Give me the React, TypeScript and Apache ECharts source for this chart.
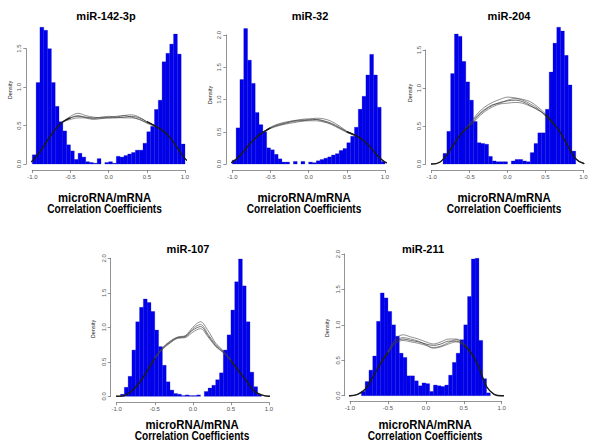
import React, { useEffect, useRef } from "react";
import * as echarts from "echarts";

// ---------- data ----------
const TITLES = ["miR-142-3p", "miR-32", "miR-204", "miR-107", "miR-211"];
const X_TICKS = [-1.0, -0.5, 0.0, 0.5, 1.0];
const Y_MAX = [1.5, 2.0, 1.5, 2.0, 2.0];

// histogram densities, bins of width 0.05 starting at -1.0
const BINS_142 = [0.12, 1.06, 1.78, 1.74, 1.5, 1.06, 0.75, 0.55, 0.43, 0.25,
  0.17, 0.06, 0.14, 0.09, 0.03, 0.02, 0.01, 0.07, 0.0, 0.02,
  0.03, 0.01, 0.1, 0.09, 0.11, 0.13, 0.15, 0.18, 0.18, 0.27,
  0.42, 0.49, 0.71, 0.83, 1.33, 1.44, 1.56, 1.69, 1.43, 0.26];
const BINS_32 = [0.06, 0.56, 1.31, 2.1, 1.61, 1.25, 0.8, 0.61, 0.5, 0.25,
  0.22, 0.15, 0.08, 0.03, 0.03, 0.0, 0.04, 0.0, 0.04, 0.0,
  0.03, 0.02, 0.05, 0.07, 0.09, 0.11, 0.14, 0.16, 0.21, 0.24,
  0.33, 0.43, 0.57, 0.85, 1.05, 1.38, 1.7, 1.38, 0.88, 0.04];
const BINS_204 = [0, 0, 0, 0.14, 0.43, 1.19, 1.71, 1.68, 1.35, 1.08,
  0.84, 0.56, 0.28, 0.27, 0.26, 0.1, 0.04, 0.03, 0.03, 0.03,
  0, 0.04, 0.06, 0.06, 0.04, 0.03, 0.15, 0.27, 0.41, 0.41,
  0.72, 1.21, 1.59, 1.8, 1.75, 1.43, 1.04, 0.17, 0, 0];
const BINS_107 = [0, 0.03, 0.13, 0.29, 0.67, 1.08, 1.29, 1.41, 1.36, 1.23,
  0.96, 0.72, 0.45, 0.21, 0.09, 0.04, 0.03, 0.01, 0.02, 0.01,
  0.01, 0.02, 0.0, 0.07, 0.12, 0.16, 0.24, 0.34, 0.67, 0.89,
  1.25, 1.66, 1.99, 1.6, 1.08, 0.35, 0.14, 0.03, 0, 0];
const BINS_211 = [0, 0, 0, 0.06, 0.2, 0.36, 0.56, 1.05, 1.45, 1.38,
  1.19, 1.0, 0.84, 0.6, 0.54, 0.28, 0.28, 0.21, 0.14, 0.18,
  0.17, 0.06, 0.15, 0.14, 0.13, 0.15, 0.29, 0.47, 0.6, 0.79,
  1.0, 1.4, 1.93, 1.94, 0.78, 0.24, 0.04, 0, 0, 0];

// density curves
const CURVE_X = [-1.1, -1.0, -0.9, -0.8, -0.7, -0.6, -0.5, -0.4, -0.3, -0.2, -0.1, 0, 0.1, 0.2, 0.3, 0.4, 0.5, 0.6, 0.7, 0.8, 0.9, 1.0, 1.1];
const MID_X = [-0.6, -0.5, -0.4, -0.3, -0.2, -0.1, 0, 0.1, 0.2, 0.3, 0.4, 0.5, 0.6];

const CURVE_142 = [0, 0.04, 0.16, 0.31, 0.45, 0.55, 0.6, 0.62, 0.61, 0.6, 0.6, 0.6, 0.6, 0.61, 0.62, 0.6, 0.55, 0.5, 0.44, 0.35, 0.21, 0.07, 0];
const MID_142_A = [0.55, 0.62, 0.66, 0.63, 0.61, 0.6, 0.6, 0.61, 0.63, 0.64, 0.61, 0.55, 0.5];
const MID_142_B = [0.55, 0.58, 0.6, 0.6, 0.59, 0.61, 0.62, 0.61, 0.6, 0.6, 0.58, 0.54, 0.5];
const MID_142_C = [0.54, 0.6, 0.63, 0.6, 0.58, 0.59, 0.61, 0.62, 0.63, 0.61, 0.58, 0.53, 0.49];

const CURVE_32 = [0, 0.03, 0.13, 0.27, 0.4, 0.49, 0.56, 0.6, 0.63, 0.66, 0.67, 0.68, 0.69, 0.67, 0.63, 0.57, 0.5, 0.45, 0.38, 0.27, 0.13, 0.03, 0];
const MID_32_A = [0.49, 0.57, 0.62, 0.65, 0.67, 0.68, 0.69, 0.71, 0.7, 0.66, 0.59, 0.51, 0.45];
const MID_32_B = [0.49, 0.55, 0.59, 0.62, 0.64, 0.66, 0.67, 0.67, 0.65, 0.62, 0.56, 0.5, 0.45];
const MID_32_C = [0.48, 0.56, 0.61, 0.64, 0.67, 0.69, 0.7, 0.69, 0.66, 0.61, 0.55, 0.49, 0.44];

const CURVE_204 = [0, 0, 0.02, 0.12, 0.27, 0.41, 0.5, 0.62, 0.71, 0.77, 0.81, 0.83, 0.84, 0.82, 0.77, 0.71, 0.65, 0.54, 0.41, 0.23, 0.07, 0.01, 0];
const MID_204_A = [0.42, 0.53, 0.66, 0.75, 0.81, 0.85, 0.88, 0.87, 0.85, 0.82, 0.75, 0.66, 0.54];
const MID_204_B = [0.41, 0.5, 0.6, 0.69, 0.75, 0.79, 0.8, 0.81, 0.8, 0.76, 0.72, 0.64, 0.54];
const MID_204_C = [0.41, 0.52, 0.64, 0.72, 0.78, 0.8, 0.84, 0.86, 0.84, 0.79, 0.73, 0.63, 0.53];

const CURVE_107 = [0, 0, 0.01, 0.08, 0.2, 0.37, 0.55, 0.69, 0.78, 0.85, 0.87, 0.96, 1.01, 0.88, 0.73, 0.64, 0.52, 0.37, 0.23, 0.08, 0.02, 0, 0];
const MID_107_A = [0.37, 0.55, 0.7, 0.8, 0.86, 0.88, 1.0, 1.08, 0.95, 0.77, 0.66, 0.53, 0.37];
const MID_107_B = [0.37, 0.54, 0.68, 0.77, 0.84, 0.85, 0.93, 0.98, 0.86, 0.72, 0.63, 0.51, 0.36];
const MID_107_C = [0.38, 0.56, 0.7, 0.79, 0.85, 0.86, 0.98, 1.04, 0.9, 0.75, 0.65, 0.52, 0.37];

const CURVE_211 = [0, 0, 0.02, 0.09, 0.26, 0.45, 0.61, 0.76, 0.8, 0.78, 0.76, 0.73, 0.71, 0.73, 0.77, 0.77, 0.72, 0.6, 0.4, 0.13, 0.02, 0, 0];
const MID_211_A = [0.45, 0.63, 0.8, 0.86, 0.83, 0.8, 0.76, 0.73, 0.76, 0.8, 0.8, 0.74, 0.6];
const MID_211_B = [0.45, 0.6, 0.74, 0.78, 0.76, 0.74, 0.71, 0.68, 0.7, 0.75, 0.79, 0.73, 0.6];
const MID_211_C = [0.44, 0.61, 0.77, 0.82, 0.8, 0.77, 0.72, 0.67, 0.69, 0.73, 0.76, 0.71, 0.59];

const X_LABEL_1 = "microRNA/mRNA";
const X_LABEL_2 = "Correlation Coefficients";
const Y_LABEL = "Density";

// ---------- layout ----------
const LAYOUT = [
  { grid: { left: 32.3, top: 48.7, width: 152.7, height: 115.3 }, off: 6, title: [106, 16], dens: [10, 90], lab: [104.5, 197, 209] },
  { grid: { left: 232.3, top: 35, width: 152.7, height: 129 }, off: 6, title: [310, 16], dens: [210, 95], lab: [304, 197, 209] },
  { grid: { left: 431.7, top: 50, width: 151.6, height: 114 }, off: 6, title: [509, 16], dens: [410, 93], lab: [504, 197, 209] },
  { grid: { left: 116.7, top: 258.3, width: 152.3, height: 138 }, off: 6, title: [188, 249], dens: [93, 329], lab: [192, 424, 436] },
  { grid: { left: 350, top: 254, width: 151.7, height: 141.7 }, off: 5.5, title: [423, 249], dens: [327, 328], lab: [425, 424, 436] },
];

const PANELS = [
  { bins: BINS_142, curve: CURVE_142, mids: [MID_142_A, MID_142_B, MID_142_C] },
  { bins: BINS_32, curve: CURVE_32, mids: [MID_32_A, MID_32_B, MID_32_C] },
  { bins: BINS_204, curve: CURVE_204, mids: [MID_204_A, MID_204_B, MID_204_C] },
  { bins: BINS_107, curve: CURVE_107, mids: [MID_107_A, MID_107_B, MID_107_C] },
  { bins: BINS_211, curve: CURVE_211, mids: [MID_211_A, MID_211_B, MID_211_C] },
];

const FONT = "'Liberation Sans', Arial, Helvetica, sans-serif";
const AXIS_COLOR = "#666";

function buildOption() {
  const grids: any[] = [];
  const xAxes: any[] = [];
  const yAxes: any[] = [];
  const series: any[] = [];
  const graphics: any[] = [];
  const binW = 0.05;

  PANELS.forEach((p, i) => {
    const L = LAYOUT[i];
    grids.push({ ...L.grid, containLabel: false });
    xAxes.push({
      gridIndex: i, type: "value", min: X_TICKS[0], max: X_TICKS[X_TICKS.length - 1], interval: 0.5,
      offset: L.off,
      axisLine: { show: true, onZero: false, lineStyle: { color: AXIS_COLOR, width: 0.7 } },
      axisTick: { show: true, length: 3, lineStyle: { color: AXIS_COLOR, width: 0.7 } },
      axisLabel: { fontSize: 6, color: "#555", margin: 4, fontFamily: FONT, showMinLabel: true, showMaxLabel: true,
        formatter: (v: number) => v.toFixed(1) },
      splitLine: { show: false },
    });
    yAxes.push({
      gridIndex: i, type: "value", min: 0, max: Y_MAX[i], interval: 0.5,
      offset: L.off,
      axisLine: { show: true, onZero: false, lineStyle: { color: AXIS_COLOR, width: 0.7 } },
      axisTick: { show: true, length: 3, lineStyle: { color: AXIS_COLOR, width: 0.7 } },
      axisLabel: { fontSize: 6, color: "#555", margin: 4, rotate: 90, fontFamily: FONT, showMinLabel: true, showMaxLabel: true,
        formatter: (v: number) => v.toFixed(1) },
      splitLine: { show: false },
    });

    // histogram bars
    const barData = p.bins.map((d, k) => {
      const x0 = -1 + k * binW;
      return [x0, x0 + binW, d];
    });
    series.push({
      type: "custom", xAxisIndex: i, yAxisIndex: i, clip: false, silent: true, z: 1,
      encode: { x: [0, 1], y: 2 },
      data: barData,
      renderItem: (params: any, api: any) => {
        const x0 = api.value(0), x1 = api.value(1), y = api.value(2);
        if (!y) return { type: "group", children: [] };
        const a = api.coord([x0, y]);
        const b = api.coord([x1, 0]);
        return {
          type: "rect",
          shape: { x: a[0], y: a[1], width: b[0] - a[0], height: b[1] - a[1] },
          style: { fill: "#0000ee", stroke: "#0000a8", lineWidth: 0.25 },
        };
      },
    });

    const curvePairs = CURVE_X.map((x, k) => [x, p.curve[k]]);
    const leftFlank = curvePairs.filter((q) => q[0] <= -0.45);
    const rightFlank = curvePairs.filter((q) => q[0] >= 0.45);
    const lineBase = { type: "line", xAxisIndex: i, yAxisIndex: i, smooth: 0.35, symbol: "none", showSymbol: false, clip: false, silent: true };

    // thin individual curves
    series.push({ ...lineBase, z: 3, data: curvePairs, lineStyle: { color: "#333", width: 0.7 } });
    p.mids.forEach((m) => {
      series.push({ ...lineBase, z: 3, data: MID_X.map((x, k) => [x, m[k]]), lineStyle: { color: "#444", width: 0.6 } });
    });
    // overlapping flanks look thick
    series.push({ ...lineBase, z: 4, data: leftFlank, lineStyle: { color: "#1a1a1a", width: 1.4 } });
    series.push({ ...lineBase, z: 4, data: rightFlank, lineStyle: { color: "#1a1a1a", width: 1.4 } });

    graphics.push({
      type: "text", x: L.title[0], y: L.title[1],
      style: { text: TITLES[i], font: `bold 11px ${FONT}`, fill: "#000", textAlign: "center", textVerticalAlign: "middle" },
    });
    graphics.push({
      type: "text", x: L.lab[0], y: L.lab[1], scaleX: 0.93,
      style: { text: X_LABEL_1, font: `bold 12.2px ${FONT}`, fill: "#000", textAlign: "center", textVerticalAlign: "middle" },
    });
    graphics.push({
      type: "text", x: L.lab[0], y: L.lab[2], scaleX: 0.83,
      style: { text: X_LABEL_2, font: `bold 12.2px ${FONT}`, fill: "#000", textAlign: "center", textVerticalAlign: "middle" },
    });
    graphics.push({
      type: "text", x: L.dens[0], y: L.dens[1], rotation: Math.PI / 2,
      style: { text: Y_LABEL, font: `5.5px ${FONT}`, fill: "#222", textAlign: "center", textVerticalAlign: "middle" },
    });
  });

  return {
    animation: false,
    backgroundColor: "#ffffff",
    grid: grids,
    xAxis: xAxes,
    yAxis: yAxes,
    series,
    graphic: graphics,
  };
}

export default function App() {
  const ref = useRef<HTMLDivElement>(null);
  useEffect(() => {
    if (!ref.current) return;
    const chart = echarts.init(ref.current, undefined, { renderer: "svg" });
    chart.setOption(buildOption());
    return () => chart.dispose();
  }, []);
  return (
    <div
      ref={ref}
      style={{ position: "fixed", left: 0, top: 0, width: 600, height: 448, background: "#fff" }}
    />
  );
}
